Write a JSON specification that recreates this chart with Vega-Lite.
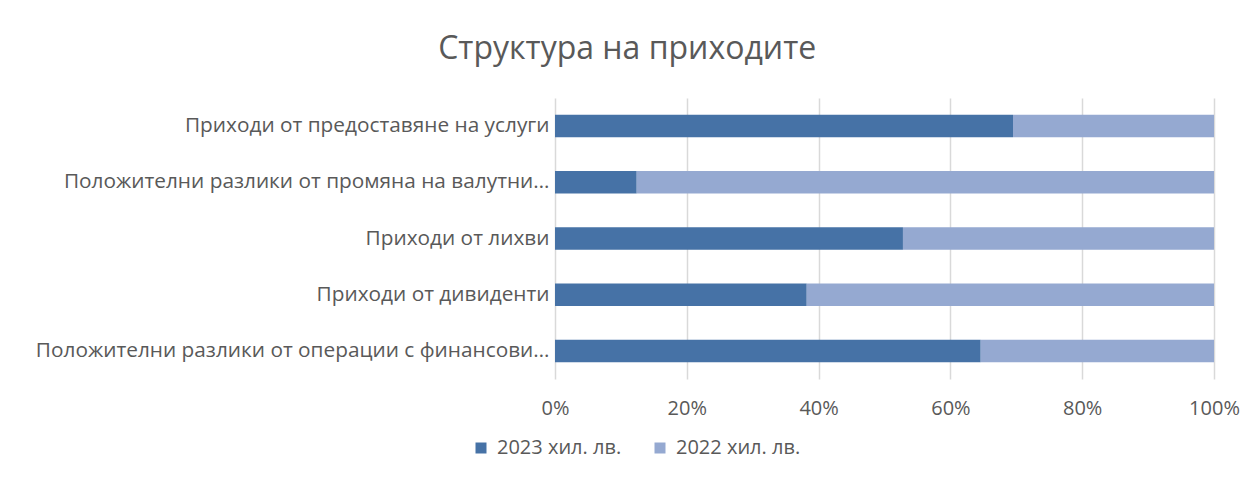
{
  "$schema": "https://vega.github.io/schema/vega-lite/v6.json",
  "width": 1253,
  "height": 477,
  "autosize": {"type": "fit", "contains": "padding"},
  "padding": {"left": 15, "right": 13, "top": 33, "bottom": 59},
  "background": "white",
  "title": {
    "text": "Структура на приходите",
    "font": "Open Sans",
    "fontSize": 32,
    "fontWeight": "normal",
    "color": "#595959",
    "anchor": "middle",
    "frame": "bounds",
    "dx": 0,
    "offset": 32
  },
  "data": {
    "values": [
      {"category": "Приходи от предоставяне на услуги", "year": "2023 хил. лв.", "value": 69.5},
      {"category": "Приходи от предоставяне на услуги", "year": "2022 хил. лв.", "value": 30.5},
      {"category": "Положителни разлики от промяна на валутни…", "year": "2023 хил. лв.", "value": 12.4},
      {"category": "Положителни разлики от промяна на валутни…", "year": "2022 хил. лв.", "value": 87.6},
      {"category": "Приходи от лихви", "year": "2023 хил. лв.", "value": 52.8},
      {"category": "Приходи от лихви", "year": "2022 хил. лв.", "value": 47.2},
      {"category": "Приходи от дивиденти", "year": "2023 хил. лв.", "value": 38.2},
      {"category": "Приходи от дивиденти", "year": "2022 хил. лв.", "value": 61.8},
      {"category": "Положителни разлики от операции с финансови…", "year": "2023 хил. лв.", "value": 64.6},
      {"category": "Положителни разлики от операции с финансови…", "year": "2022 хил. лв.", "value": 35.4}
    ]
  },
  "mark": {"type": "bar"},
  "encoding": {
    "y": {
      "field": "category",
      "type": "nominal",
      "sort": null,
      "title": null,
      "scale": {"paddingInner": 0.6, "paddingOuter": 0.3},
      "axis": {
        "domain": false,
        "ticks": false,
        "grid": false,
        "labelFont": "Open Sans",
        "labelFontSize": 20.8,
        "labelColor": "#595959",
        "labelPadding": 6,
        "labelLimit": 600,
        "labelExpr": "length(datum.label) < 40 ? datum.label + '\u00a0\u00a0' : datum.label",
        "minExtent": 540,
        "maxExtent": 540,
        "encode": {
          "labels": {
            "update": {
              "dx": {"signal": "length(datum.label) < 40 ? -11 : 0"}
            }
          }
        }
      }
    },
    "x": {
      "field": "value",
      "type": "quantitative",
      "stack": "normalize",
      "title": null,
      "scale": {"domain": [0, 1], "nice": false},
      "axis": {
        "format": "%",
        "values": [0, 0.2, 0.4, 0.6, 0.8, 1],
        "domain": false,
        "ticks": false,
        "grid": true,
        "gridColor": "#d9d9d9",
        "gridWidth": 1.5,
        "labelFlush": false,
        "labelFont": "Open Sans",
        "labelFontSize": 20,
        "labelColor": "#595959",
        "labelPadding": 19
      }
    },
    "color": {
      "field": "year",
      "type": "nominal",
      "title": null,
      "scale": {"domain": ["2023 хил. лв.", "2022 хил. лв."], "range": ["#4672A6", "#95A9D1"]},
      "legend": {
        "orient": "none",
        "legendX": -84,
        "legendY": 340,
        "direction": "horizontal",
        "symbolType": "square",
        "symbolSize": 121,
        "symbolStrokeWidth": 0,
        "labelFont": "Open Sans",
        "labelFontSize": 20,
        "labelColor": "#595959",
        "labelOffset": 6,
        "columnPadding": 28
      }
    },
    "order": {"field": "year", "sort": "descending"}
  },
  "config": {"view": {"stroke": null}}
}
